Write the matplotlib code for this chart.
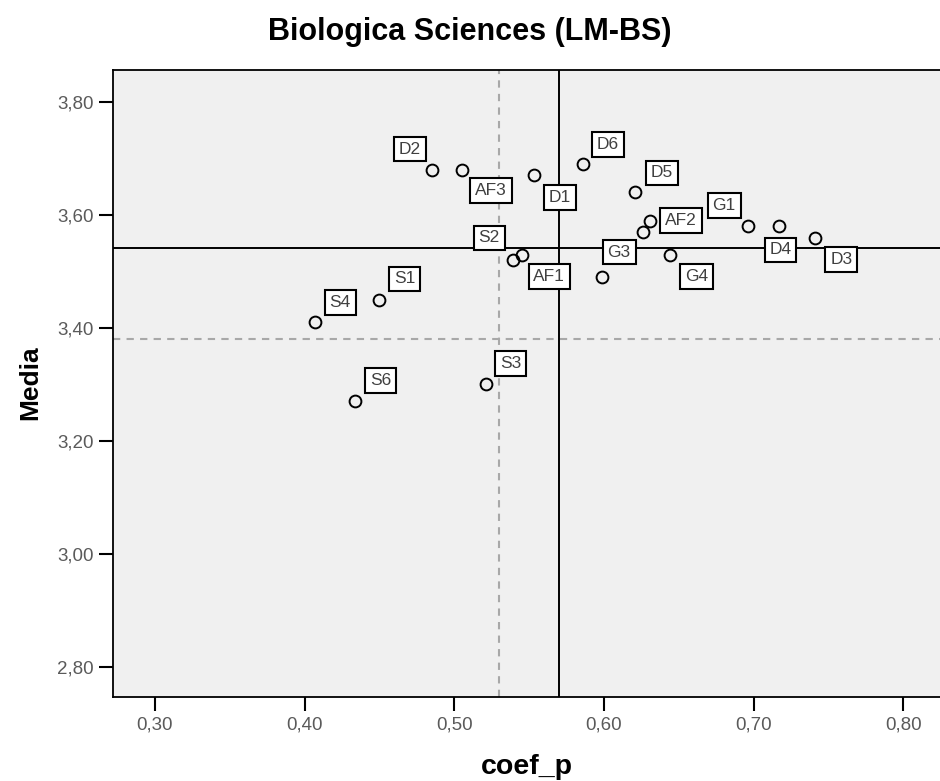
import numpy as np
import matplotlib
matplotlib.use("Agg")
import matplotlib.pyplot as plt
from matplotlib.ticker import FuncFormatter

# data (coef_p, Media)
labels = ['D2', 'AF3', 'D1', 'D6', 'S2', 'AF1', 'G3', 'D5', 'AF2', '',
          'G4', 'G1', 'D4', 'D3', 'S1', 'S4', 'S6', 'S3']
coef_p = [0.485, 0.505, 0.553, 0.586, 0.539, 0.545, 0.599, 0.621, 0.631, 0.626,
          0.644, 0.696, 0.717, 0.741, 0.450, 0.407, 0.434, 0.521]
media = [3.68, 3.68, 3.67, 3.69, 3.52, 3.53, 3.49, 3.64, 3.59, 3.57,
         3.53, 3.58, 3.58, 3.56, 3.45, 3.41, 3.27, 3.30]

# reference lines
mean_x, mean_y = 0.570, 3.542
ref_x, ref_y = 0.530, 3.381

# label box offsets in points (layout only)
offsets = {'D2': (-16, 15), 'AF3': (21, -15), 'D1': (19, -16), 'D6': (18, 14),
           'S2': (-17, 16), 'AF1': (20, -16), 'G3': (12, 18), 'D5': (19, 14),
           'AF2': (22, 0), 'G4': (19, -16), 'G1': (-17, 15), 'D4': (1, -17),
           'D3': (19, -16), 'S1': (18, 15), 'S4': (18, 14), 'S6': (18, 15),
           'S3': (18, 15)}

fnt = ['Liberation Sans', 'DejaVu Sans']

fig = plt.figure(figsize=(9.4, 7.81), dpi=100)
ax = fig.add_axes([0.1205, 0.108, 0.8795, 0.8025])
ax.set_facecolor('#f0f0f0')

ax.axvline(ref_x, color='#a8a8a8', lw=1.5, ls=(0, (3.5, 3)), zorder=1)
ax.axhline(ref_y, color='#a8a8a8', lw=1.5, ls=(0, (3.5, 3)), zorder=1)
ax.axvline(mean_x, color='black', lw=1.4, zorder=2)
ax.axhline(mean_y, color='black', lw=1.4, zorder=2)

ax.plot(coef_p, media, 'o', ms=8.5, mfc='none', mec='black', mew=1.4, zorder=4)

for lab, x, y in zip(labels, coef_p, media):
    if not lab:
        continue
    dx, dy = offsets[lab]
    ax.annotate(lab, (x, y), xytext=(dx, dy), textcoords='offset points',
                ha='center', va='center', fontsize=12.5, color='#404040',
                family=fnt, zorder=5,
                bbox=dict(boxstyle='square,pad=0.28', fc='white', ec='black', lw=1.5))

ax.set_xlim(0.2722, 0.8245)
ax.set_ylim(2.747, 3.857)
ax.set_xticks([0.3, 0.4, 0.5, 0.6, 0.7, 0.8])
ax.set_yticks([2.8, 3.0, 3.2, 3.4, 3.6, 3.8])
comma = FuncFormatter(lambda v, p: f'{v:.2f}'.replace('.', ','))
ax.xaxis.set_major_formatter(comma)
ax.yaxis.set_major_formatter(comma)
ax.tick_params(direction='out', length=10, width=1.5, color='black',
               labelsize=13.5, labelcolor='#5a5a5a', pad=4)
for t in ax.get_xticklabels() + ax.get_yticklabels():
    t.set_family(fnt)

for s in ['left', 'bottom', 'top']:
    ax.spines[s].set_linewidth(1.3)
ax.spines['right'].set_visible(False)

fig.text(0.5, 1 - 32 / 781, 'Biologica Sciences (LM-BS)', ha='center', va='center',
         fontsize=22, fontweight='bold', family=fnt)
fig.text(0.5605, 1 - 767 / 781, 'coef_p', ha='center', va='center',
         fontsize=20.5, fontweight='bold', family=fnt)
fig.text(30 / 940, 1 - 383 / 781, 'Media', ha='center', va='center', rotation=90,
         fontsize=19, fontweight='bold', family=fnt)

fig.savefig('out.png', dpi=100)
